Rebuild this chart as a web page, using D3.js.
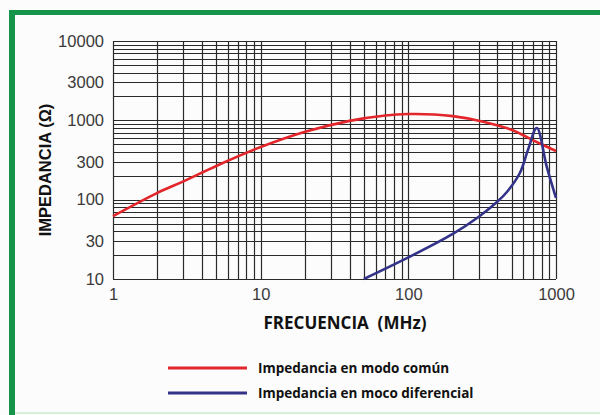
<!DOCTYPE html>
<html><head><meta charset="utf-8">
<script src="https://cdn.jsdelivr.net/npm/d3@7"></script>
<style>
html,body{margin:0;padding:0;background:#fbfcfb;}
svg{display:block;}
</style></head>
<body>
<svg id="c" width="600" height="415"></svg>
<script>
const freqTicks = [1, 10, 100, 1000];
const impTicks = [10, 30, 100, 300, 1000, 3000, 10000];
const seriesNames = ["Impedancia en modo común", "Impedancia en moco diferencial"];
const commonFreq = [1, 2, 3, 5, 10, 20, 40, 70, 100, 150, 200, 300, 500, 700, 1000];
const commonImp  = [62, 122, 170, 266, 460, 718, 985, 1150, 1200, 1185, 1130, 990, 760, 560, 410];
const diffFreq = [50, 100, 200, 300, 400, 465, 569, 646, 741, 867, 1000];
const diffImp  = [10, 18.7, 37, 61, 94, 125, 217, 424, 802, 257, 105];
const xLabel = "FRECUENCIA  (MHz)";
const yLabel = "IMPEDANCIA (Ω)";

const svg = d3.select("#c");
// frame
svg.append("rect").attr("x",0).attr("y",0).attr("width",600).attr("height",415).attr("fill","#fbfcfb");
svg.append("rect").attr("x",9).attr("y",10).attr("width",600).attr("height",5).attr("fill","#16954a");
svg.append("rect").attr("x",9).attr("y",10).attr("width",6).attr("height",410).attr("fill","#16954a");
svg.append("rect").attr("x",15).attr("y",412).attr("width",585).attr("height",2).attr("fill","#d5efd8");

const L = 113, R = 556, T = 41, B = 279;
const x = d3.scaleLog().domain([1, 1000]).range([L, R]);
const y = d3.scaleLog().domain([10, 10000]).range([B, T]);

// grid
const xs = [], ys = [];
for (let p = 0; p < 3; p++) for (let m = 1; m < 10; m++) xs.push(m * Math.pow(10, p));
xs.push(1000);
for (let p = 1; p < 4; p++) for (let m = 1; m < 10; m++) ys.push(m * Math.pow(10, p));
ys.push(10000);
const g = svg.append("g");
g.selectAll("line.v").data(xs).join("line").attr("class","v")
  .attr("x1", d => Math.round(x(d)) + 0.5).attr("x2", d => Math.round(x(d)) + 0.5)
  .attr("y1", T).attr("y2", B).attr("stroke", "#2a2a2a").attr("stroke-width", 1.2);
g.selectAll("line.h").data(ys).join("line").attr("class","h")
  .attr("y1", d => Math.round(y(d)) + 0.5).attr("y2", d => Math.round(y(d)) + 0.5)
  .attr("x1", L).attr("x2", R).attr("stroke", "#2a2a2a").attr("stroke-width", 1.2);

// axes labels via d3 axes
const xAxis = d3.axisBottom(x).tickValues(freqTicks).tickFormat(d3.format("d")).tickSize(0).tickPadding(9);
const xa = svg.append("g").attr("transform", `translate(0,${B})`).call(xAxis);
xa.select(".domain").remove();
xa.selectAll("text").attr("font-family","Liberation Sans, Arial, sans-serif").attr("font-size",16.5).attr("fill","#3a3a3a");

const yAxis = d3.axisLeft(y).tickValues(impTicks).tickFormat(d3.format("d")).tickSize(0).tickPadding(9);
const ya = svg.append("g").attr("transform", `translate(${L},0)`).call(yAxis);
ya.select(".domain").remove();
ya.selectAll("text").attr("font-family","Liberation Sans, Arial, sans-serif").attr("font-size",16.5).attr("fill","#3a3a3a");

// curves
const lineC = d3.line().x(d => x(d[0])).y(d => y(d[1])).curve(d3.curveCatmullRom.alpha(0.5));
const common = commonFreq.map((f, i) => [f, commonImp[i]]);
const diff = diffFreq.map((f, i) => [f, diffImp[i]]);
svg.append("path").attr("d", lineC(common)).attr("fill","none").attr("stroke","#e3262b").attr("stroke-width",2.6);
svg.append("path").attr("d", lineC(diff)).attr("fill","none").attr("stroke","#34338a").attr("stroke-width",2.6).attr("stroke-linejoin","miter");

// axis titles
svg.append("text").attr("x", 345).attr("y", 329).attr("text-anchor","middle")
  .attr("font-family","Open Sans, sans-serif").attr("font-weight","bold").attr("font-size",17)
  .style("white-space","pre").attr("fill","#111").text(xLabel);
svg.append("text").attr("transform","translate(51,170) rotate(-90)").attr("text-anchor","middle")
  .attr("font-family","Liberation Sans, Arial, sans-serif").attr("font-weight","bold").attr("font-size",16.5)
  .attr("fill","#111").text(yLabel);

// legend
const colors = ["#e3262b", "#34338a"];
const lg = svg.append("g");
seriesNames.forEach((n, i) => {
  const yy = 368 + i * 25;
  lg.append("line").attr("x1",168).attr("x2",247).attr("y1",yy).attr("y2",yy).attr("stroke",colors[i]).attr("stroke-width",3);
  lg.append("text").attr("x",258).attr("y",yy+5).attr("font-family","Open Sans, sans-serif").attr("font-weight","bold")
    .attr("font-size",13.5).attr("fill","#111").text(n);
});
</script>
</body></html>
